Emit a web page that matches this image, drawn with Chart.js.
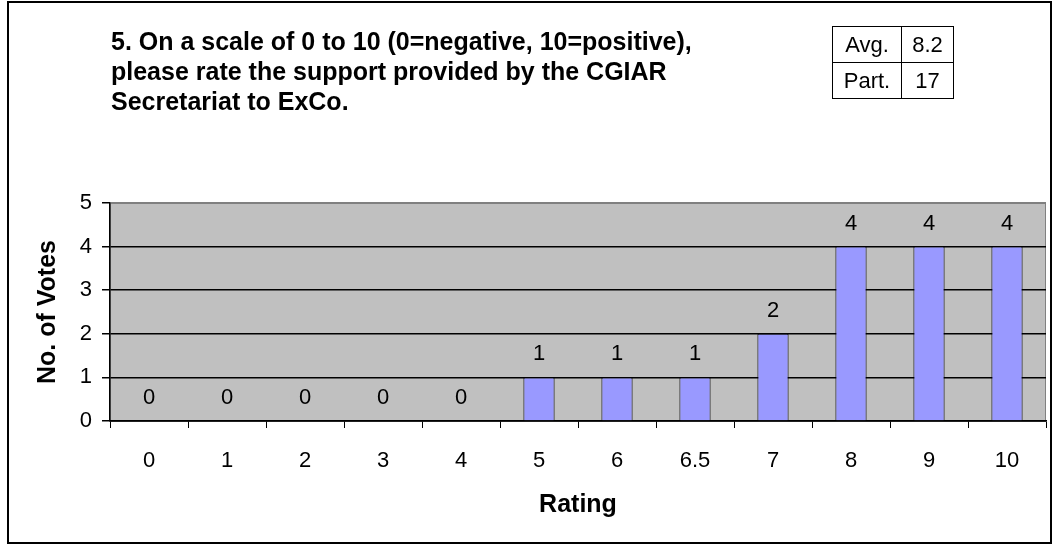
<!DOCTYPE html>
<html>
<head>
<meta charset="utf-8">
<script src="https://cdn.jsdelivr.net/npm/chart.js@4"></script>
<style>
  body { margin: 0; background: #fff; font-family: "Liberation Sans", Arial, sans-serif; }
  #wrap { position: relative; width: 1052px; height: 544px; }
  #frame { position: absolute; left: 7px; top: 1px; width: 1041px; height: 539px; border: 2px solid #000; }
  #title { position: absolute; left: 111px; top: 26px; font-weight: bold; font-size: 25px; line-height: 30px; color: #000; }
  #stats { position: absolute; left: 832px; top: 26px; border-collapse: collapse; font-size: 22px; }
  #stats td { border: 1.5px solid #000; padding: 0; height: 35px; text-align: center; }
  #stats td.k { width: 68px; }
  #stats td.v { width: 51px; }
  canvas { position: absolute; left: 0; top: 0; }
</style>
</head>
<body>
<div id="wrap">
  <div id="frame"></div>
  <canvas id="rating-chart" width="1052" height="544"></canvas>
  <div id="title">5. On a scale of 0 to 10 (0=negative, 10=positive),<br>please rate the support provided by the CGIAR<br>Secretariat to ExCo.</div>
  <table id="stats">
    <tr><td class="k">Avg.</td><td class="v">8.2</td></tr>
    <tr><td class="k">Part.</td><td class="v">17</td></tr>
  </table>
</div>
<script>
const ratings = ["0", "1", "2", "3", "4", "5", "6", "6.5", "7", "8", "9", "10"];
const votes = [0, 0, 0, 0, 0, 1, 1, 1, 2, 4, 4, 4];

const ctx = document.getElementById("rating-chart").getContext("2d");
const font = "'Liberation Sans', Arial, sans-serif";
Chart.defaults.color = "#000";
Chart.defaults.font.family = font;

// grey plot area like the old Excel look
const plotBg = {
  id: "plotBg",
  beforeDraw(chart) {
    const a = chart.chartArea;
    const c = chart.ctx;
    c.save();
    c.fillStyle = "#C0C0C0";
    c.fillRect(a.left, a.top, a.right - a.left, a.bottom - a.top);
    c.strokeStyle = "#808080";
    c.lineWidth = 1;
    c.strokeRect(a.left + 0.5, a.top + 0.5, a.right - a.left - 1, a.bottom - a.top);
    c.restore();
  }
};

// value labels above each bar
const barValues = {
  id: "barValues",
  afterDatasetsDraw(chart) {
    const c = chart.ctx;
    const meta = chart.getDatasetMeta(0);
    c.save();
    c.font = "22px " + font;
    c.fillStyle = "#000";
    c.textAlign = "center";
    c.textBaseline = "middle";
    meta.data.forEach((bar, i) => {
      c.fillText(String(votes[i]), bar.x, bar.y - 23);
    });
    c.restore();
  }
};

new Chart(ctx, {
  type: "bar",
  data: {
    labels: ratings,
    datasets: [{
      label: "No. of Votes",
      data: votes,
      backgroundColor: "#9999FF",
      borderColor: "#000",
      borderWidth: 1,
      barPercentage: 0.4,
      categoryPercentage: 1.0
    }]
  },
  options: {
    responsive: false,
    animation: false,
    layout: { padding: { top: 203, left: 0, right: 6, bottom: 0 } },
    plugins: {
      legend: { display: false },
      tooltip: { enabled: false }
    },
    scales: {
      x: {
        grid: { drawOnChartArea: false, drawTicks: true, tickLength: 7, tickColor: "#000", offset: true },
        border: { color: "#000", width: 1.5 },
        ticks: { font: { size: 22 }, padding: 20 },
        title: { display: true, text: "Rating", font: { size: 25, weight: "bold" }, padding: { top: 0, bottom: 24 } },
        afterFit(s) { s.height = 123; }
      },
      y: {
        min: 0,
        max: 5,
        ticks: { stepSize: 1, font: { size: 22 }, padding: 10 },
        grid: {
          color: (c) => (c.tick && c.tick.value === 5 ? "#808080" : "#000"),
          tickColor: "#000",
          tickLength: 8,
          lineWidth: 1.5
        },
        border: { color: "#000", width: 1.5 },
        title: { display: true, text: "No. of Votes", font: { size: 25, weight: "bold" }, padding: { top: 33, bottom: 0 } },
        afterFit(s) { s.width = 110; }
      }
    }
  },
  plugins: [plotBg, barValues]
});
</script>
</body>
</html>
